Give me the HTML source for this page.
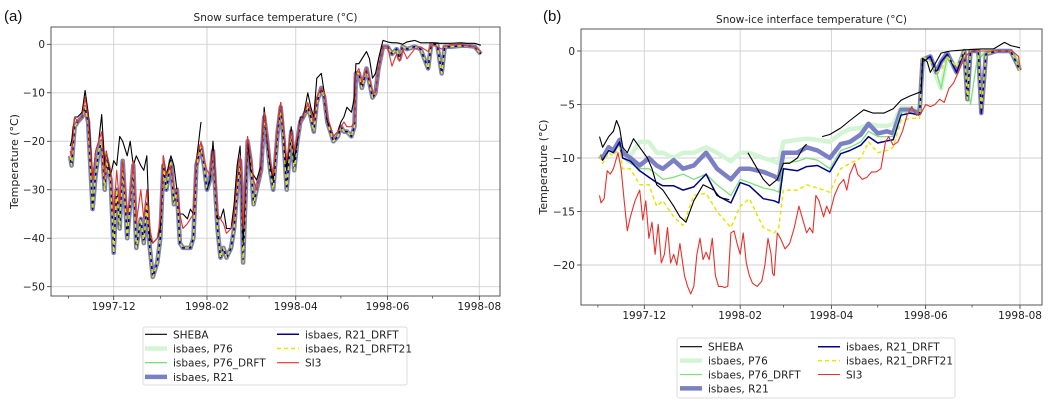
<!DOCTYPE html>
<html><head><meta charset="utf-8">
<style>
html,body{margin:0;padding:0;background:#fff;}
svg{display:block;font-family:"DejaVu Sans","Liberation Sans",sans-serif;}
</style></head>
<body>
<svg id="fig" width="1063" height="410" viewBox="0 0 1063 410" xmlns="http://www.w3.org/2000/svg">
<rect width="1063" height="410" fill="#fff"/>
</svg>
<script>
// ---------- Panel (a) data: day index from 1997-11-01 ----------
const aDays = [1,2,4,6,9,11,13,14,16,18,20,22,24,25,28,30,32,34,36,39,41,43,45,48,50,52,54,56,59,61,63,65,68,70,72,74,76,79,81,83,85,88,90,92,94,96,99,101,103,105,108,110,112,114,115,116,119,121,123,125,128,130,132,134,136,139,141,143,145,148,150,152,154,156,159,161,163,165,168,170,172,174,176,179,181,183,185,188,190,191,193,195,198,200,202,204,206,209,212,215,218,220,222,225,230,234,239,241,245,248,250,254,261,265,270,274];
const aSheba = [-21,-20,-15,-15,-14,-9.5,-14,-18,-28,-22,-20,-14.5,-25,-22,-27,-24,-25,-19,-20,-23,-20,-25,-23,-25,-26,-23,-40,-41,-40,-38,-23,-27,-23,-25,-30,-35,-35,-36,-34,-35,-24,-16,null,-30,-28,-20,-36,-36,-34,-38,-38,-33,-25,-21,-30,-41,-20,-26,-27,-28,-25,-13,-20,-25,-28,-17,-12,-18,-26,-17,-24,-20,-15,-15,-10,-13,-15,-7,-6,-10,-16,-17,-19,-18,-16,-15,-13,-14,-11,-4,-4,-3,-1.5,-3,-7,-6,-3,0.8,0.5,0.3,0.3,0.2,0,0.5,0.8,0.3,0.3,0.3,0.2,0.2,0.2,0.2,0.3,0.2,0.2,-0.2];
const aR21 = [-23,-25,-17,-16,-15,-13,-16,-22,-34,-27,-22,-20,-30,-24,-28,-43,-30,-38,-24,-40,-33,-25,-42,-36,-41,-33,-42,-48,-45,-40,-25,-30,-24,-33,-30,-41,-42,-42,-42,-40,-25,-21,-25,-30,-28,-22,-38,-44,-42,-44,-42,-38,-30,-24,-30,-45,-20,-24,-33,-30,-26,-15,-20,-26,-30,-18,-13,-20,-30,-18,-26,-20,-16,-15,-13,-15,-18,-12,-9,-11,-16,-18,-20,-19,-17,-18,-18,-19,-17,-6,-6,-9,-5,-8,-11,-10,-5,-0.5,-0.5,-2,-1,-3,-0.5,-1,-0.5,-1,-5,0,0,-6,-0.5,-0.5,-0.3,-0.3,-0.5,-2];
const aP76 = aR21.slice();
const aP76D = aR21.slice();
const aR21D = aR21.slice();
const aR21D21 = aR21.slice();
const aSI3 = [-22,-23,-15,-16,-15,-11,-15,-20,-28,-22,-20,-18,-28,-22,-26,-35,-26,-33,-24,-35,-32,-24,-37,-30,-36,-30,-38,-41,-40,-36,-23,-27,-25,-30,-30,-35,-38,-37,-36,-35,-24,-20,-24,-26,-27,-22,-35,-36,-37,-39,-38,-36,-28,-23,-28,-38,-19,-23,-28,-30,-26,-14,-19,-24,-27,-17,-12,-18,-24,-18,-22,-19,-16,-15,-12,-14,-16,-11,-9,-10,-15,-17,-19,-18,-17,-16,-17,-17,-16,-6,-5,-8,-5,-7,-10,-10,-5,-0.5,-0.5,-4.5,-2,-3.5,-1,-3,-1,-0.5,-1.5,0,-0.5,-1,-0.5,0,0,-0.3,-0.5,-1.5];

// ---------- Panel (b) data ----------
const bShebaDays = [1,3,7,10,12,14,16,19,23,27,32,35,38,42,49,53,57,62,68,75,79,85,97,103,107,111,116,120,124,129,133,135,145,150,157,163,172,178,185,191,196,202,209,210,213,215,222,228,237,248,256,263,267,273];
const bSheba = [-8,-9,-8,-7.5,-6.5,-7.2,-9,-9.5,-8.2,-9,-10,-11,-12.5,-13,-14.5,-15.5,-16,-14,-12.5,-13,-13.7,-13.9,-9.5,-11,-12,-12.6,-12,-10.5,-10.5,-10,-9,-8.7,-8,-7.8,-7.2,-6.5,-5.5,-5.8,-5.8,-5.4,-4.6,-4.2,-3.8,-0.7,-1,-2,-0.2,0,0.1,0.2,0.2,0.8,0.5,0.3];
const bShebaGaps = [85,135]; // data missing after these days
const bDays = [1,3,7,10,14,16,21,27,33,38,42,49,55,62,70,77,86,92,98,107,114,117,120,129,135,142,150,157,163,170,175,181,187,191,196,202,208,210,215,219,222,226,232,237,239,241,246,248,251,258,267,272,273];
const bP76 = [-9.8,-10,-9,-9.3,-8.5,-9.5,-9.8,-8.5,-8.5,-9.5,-9.5,-10,-9.5,-9.5,-9,-9.5,-10.3,-9.5,-9.5,-10,-10.3,-10.5,-8.5,-8.3,-8.2,-8.3,-8.5,-7.7,-7.3,-7.2,-6.8,-7,-7,-6.8,-5.3,-5.3,-5.5,-1,-0.5,-2.5,-3.5,-0.5,-1.5,0,-1,0,0,-0.5,0,0,0,-1,-1.5];
const bP76D = [-9.8,-10.2,-9.2,-9.5,-8.5,-10,-10.5,-11,-11,-11.5,-12,-11.8,-11.5,-12,-11.5,-12.5,-13.5,-12,-12.3,-12.8,-13,-13.2,-10.5,-10.3,-10,-10.2,-11,-9.3,-9,-8.5,-7.5,-8,-8,-8,-5.7,-5.7,-6,-1,-0.5,-2,-3.5,-0.5,-2,0,-3,-5,0,-0.5,0,0,0,-1,-1.8];
const bR21 = [-9.8,-10,-9,-9.3,-8.3,-9.5,-10,-10.7,-10,-10.7,-11,-10.2,-11,-10.7,-9.5,-11,-12,-11,-11,-11.3,-11.7,-12,-9.5,-9.5,-9,-9.3,-10,-8.7,-8.5,-7.8,-6.8,-7.7,-7.5,-7.7,-5.5,-5.5,-5.8,-0.8,-0.5,-2,-1,-0.2,-2,0,-4.5,0,0,-5.8,-0.3,0,0,-1.5,-1.8];
const bR21D = [-9.8,-10.2,-9.3,-9.5,-8.5,-10,-10.3,-11.2,-11.8,-12.3,-12.6,-12.6,-13,-12.7,-11.5,-13.5,-14.2,-12.3,-12.6,-13.8,-14,-14.2,-11,-11.2,-10.8,-10.7,-11.3,-9.6,-9.3,-8.8,-8,-8.6,-8.4,-8.3,-6,-5.8,-6,-1,-0.5,-2,-1,-0.3,-2,0,-4.5,0,0,-5.8,-0.3,0,0,-1.5,-1.8];
const bR21D21 = [-9.8,-10.5,-9.5,-9.8,-9,-11,-11,-12.5,-12.5,-14.5,-14,-15.5,-16.3,-13.5,-13.3,-15,-16.5,-14.5,-13.8,-16.5,-17,-16.5,-13,-13,-12.5,-12.8,-13.2,-11,-10.5,-10,-8.5,-9.5,-9.3,-9,-6.5,-6.3,-6.3,-0.5,-1,-2,-1.8,-0.5,-1.5,0,-4.5,0,0,-5.5,-0.3,0,0,-1.5,-2];
const bSI3Days = [1,2,4,6,8,10,12,13,15,17,19,21,24,27,29,31,33,35,37,39,41,43,45,47,49,51,53,56,58,60,62,64,66,68,70,72,74,76,78,80,82,84,86,88,90,92,94,96,98,100,103,106,108,110,112,113,114,116,118,121,124,127,130,132,135,137,139,141,143,146,148,150,153,156,159,161,163,166,168,171,174,177,180,183,186,188,191,194,197,200,203,206,209,212,215,218,221,224,227,230,233,236,239,242,248,255,262,268,272,273];
const bSI3 = [-13.5,-14.2,-13.8,-11.2,-11.5,-11,-10,-9.5,-11,-14,-16.8,-15.5,-14,-13,-15.8,-14,-17.5,-16,-19,-16.2,-19.8,-19,-16.5,-19.8,-19,-20,-18,-21,-22,-22.7,-22,-19,-17.5,-19.5,-18.8,-19.5,-17.5,-21,-22,-22,-22.1,-22,-17,-16.8,-18,-19,-17,-19.8,-21,-21.7,-22,-21.5,-20,-17.5,-19,-20.8,-21,-17,-17.5,-18.5,-18,-16.5,-14.5,-15.5,-17,-16.5,-17,-13.5,-14,-15.5,-14.5,-15.2,-13.5,-12.5,-12,-13,-11.5,-10.5,-11.5,-12,-11.8,-11.3,-11.3,-11,-8.5,-8,-8.8,-8.5,-7.5,-6,-5.2,-6,-5.8,-5,-5.2,-5,-4.5,-4.8,-3.5,-3,-2,-1,-0.3,0,0,0,0,0,-0.5,-1.5];

const monthLabels = ["1997-12","1998-02","1998-04","1998-06","1998-08"];
const majorDays = [30,92,151,212,273];
const minorDays = [0,61,120,181,242];
const aYTicks = [0,-10,-20,-30,-40,-50];
const bYTicks = [0,-5,-10,-15,-20];
const legendLabels = ["SHEBA","isbaes, P76","isbaes, P76_DRFT","isbaes, R21","isbaes, R21_DRFT","isbaes, R21_DRFT21","SI3"];

const NS = "http://www.w3.org/2000/svg";
const svg = document.getElementById('fig');
function mk(tag, attrs, parent){
  const e = document.createElementNS(NS, tag);
  for (const k in attrs) e.setAttribute(k, attrs[k]);
  (parent||svg).appendChild(e);
  return e;
}
function txt(x,y,s,size,anchor,parent){
  const t = mk('text',{x:x,y:y,'font-size':size,'text-anchor':anchor||'middle',fill:'#222'},parent);
  t.textContent = s;
  return t;
}

const styles = {
  p76:{stroke:'#d4f5d4',w:4.5,dash:null},
  r21:{stroke:'#7b7fc4',w:4.5,dash:null},
  p76d:{stroke:'#7fe07f',w:1.3,dash:null},
  r21d:{stroke:'#000088',w:1.5,dash:null},
  r21d21:{stroke:'#e6e600',w:1.5,dash:'4,3'},
  si3:{stroke:'#e8302a',w:1.1,dash:null},
  sheba:{stroke:'#000',w:1.1,dash:null}
};

function panel(cfg){
  const g = mk('g',{});
  
  
  const X = d => cfg.x0 + (d - 30) * (cfg.x1 - cfg.x0) / (273 - 30);
  const Y = v => cfg.y0 + (0 - v) * (cfg.y1 - cfg.y0) / (0 - cfg.yRef);
  // grid
  majorDays.forEach((d,i)=>{
    const l = mk('line',{x1:X(d),x2:X(d),y1:cfg.top,y2:cfg.bottom,stroke:'#d0d0d0','stroke-width':0.9},g);
    
    
    mk('line',{x1:X(d),x2:X(d),y1:cfg.bottom,y2:cfg.bottom+4,stroke:'#333','stroke-width':0.8},g);
    const t = txt(X(d), cfg.bottom+14, monthLabels[i], 10.5, 'middle', g);
    
    
  });
  minorDays.forEach(d=>{
    mk('line',{x1:X(d),x2:X(d),y1:cfg.bottom,y2:cfg.bottom+2.5,stroke:'#333','stroke-width':0.7},g);
  });
  cfg.yTicks.forEach(v=>{
    const l = mk('line',{x1:cfg.left,x2:cfg.right,y1:Y(v),y2:Y(v),stroke:'#d0d0d0','stroke-width':0.9},g);
    
    
    mk('line',{x1:cfg.left-4,x2:cfg.left,y1:Y(v),y2:Y(v),stroke:'#333','stroke-width':0.8},g);
    const t = txt(cfg.left-6, Y(v)+3.8, v===0?'0':'\u2212'+Math.abs(v), 10.5, 'end', g);
    
    
  });
  // series
  const clipId = cfg.name+'-clip';
  const cp = mk('clipPath',{id:clipId},g);
  mk('rect',{x:cfg.left,y:cfg.top,width:cfg.right-cfg.left,height:cfg.bottom-cfg.top},cp);
  cfg.series.forEach(s=>{
    const st = styles[s.key];
    let d = '', pen = false;
    s.vals.forEach((v,i)=>{
      if (v === null || v === undefined){ pen=false; return; }
      d += (pen?'L':'M') + X(s.days[i]).toFixed(1) + ',' + Y(v).toFixed(1);
      pen = true;
      if (s.gaps && s.gaps.indexOf(s.days[i])>=0) pen=false;
    });
    const p = mk('path',{d:d,fill:'none',stroke:st.stroke,'stroke-width':st.w,'stroke-linejoin':'round','clip-path':'url(#'+clipId+')'},g);
    if (st.dash) p.setAttribute('stroke-dasharray', st.dash);
    
    
  });
  // frame
  const fr = mk('rect',{x:cfg.left,y:cfg.top,width:cfg.right-cfg.left,height:cfg.bottom-cfg.top,fill:'none',stroke:'#555','stroke-width':1},g);
  
  
  const ti = txt((cfg.left+cfg.right)/2, cfg.top-6, cfg.title, 10.5, 'middle', g);
  
  
  const pl = mk('text',{x:cfg.labX,y:21,'font-size':15,fill:'#111','font-family':'Liberation Sans, sans-serif'},g);
  pl.textContent = cfg.label;
  
  
  const yl = mk('text',{x:0,y:0,'font-size':11,'text-anchor':'middle',fill:'#222',transform:'translate('+cfg.yLabX+','+((cfg.top+cfg.bottom)/2)+') rotate(-90)'},g);
  yl.textContent = 'Temperature (°C)';
  
  
  // legend
  const lg = mk('g',{},g);
  
  
  const L = cfg.legend;
  mk('rect',{x:L.x,y:L.y,width:L.w,height:L.h,rx:2,fill:'#fff',stroke:'#ddd','stroke-width':1},lg);
  const keys = ['sheba','p76','p76d','r21','r21d','r21d21','si3'];
  keys.forEach((k,i)=>{
    const col = i<4?0:1, row = i<4?i:i-4;
    const lx = col===0?L.c1:L.c2, ly = L.r0 + row*L.dr;
    const st = styles[k];
    const ln = mk('line',{x1:lx,x2:lx+22,y1:ly,y2:ly,stroke:st.stroke,'stroke-width':st.w},lg);
    if (st.dash) ln.setAttribute('stroke-dasharray', st.dash);
    
    
    const t = txt(lx+28, ly+4, legendLabels[i], 10.5, 'start', lg);
    
    
  });
}

panel({name:'panel-a', label:'(a)', labX:4, title:'Snow surface temperature (°C)',
  left:51, right:500, top:27, bottom:296, x0:113.7, x1:479.3, y0:44.3, y1:286.7, yRef:-50,
  yTicks:aYTicks, yLabX:18,
  series:[
    {key:'p76',days:aDays,vals:aP76},
    {key:'r21',days:aDays,vals:aR21},
    {key:'p76d',days:aDays,vals:aP76D},
    {key:'r21d',days:aDays,vals:aR21D},
    {key:'r21d21',days:aDays,vals:aR21D21},
    {key:'sheba',days:aDays,vals:aSheba},
    {key:'si3',days:aDays,vals:aSI3}
  ],
  legend:{x:143,y:327,w:264,h:58,c1:145,c2:277,r0:334.3,dr:14.2}
});
panel({name:'panel-b', label:'(b)', labX:543, title:'Snow-ice interface temperature (°C)',
  left:581, right:1042, top:29, bottom:305, x0:644.3, x1:1020, y0:51, y1:265, yRef:-20,
  yTicks:bYTicks, yLabX:547,
  series:[
    {key:'p76',days:bDays,vals:bP76},
    {key:'r21',days:bDays,vals:bR21},
    {key:'p76d',days:bDays,vals:bP76D},
    {key:'r21d',days:bDays,vals:bR21D},
    {key:'r21d21',days:bDays,vals:bR21D21},
    {key:'sheba',days:bShebaDays,vals:bSheba,gaps:bShebaGaps},
    {key:'si3',days:bSI3Days,vals:bSI3}
  ],
  legend:{x:677,y:338,w:278,h:60,c1:680,c2:818,r0:346.7,dr:13.9}
});
</script>
</body></html>
